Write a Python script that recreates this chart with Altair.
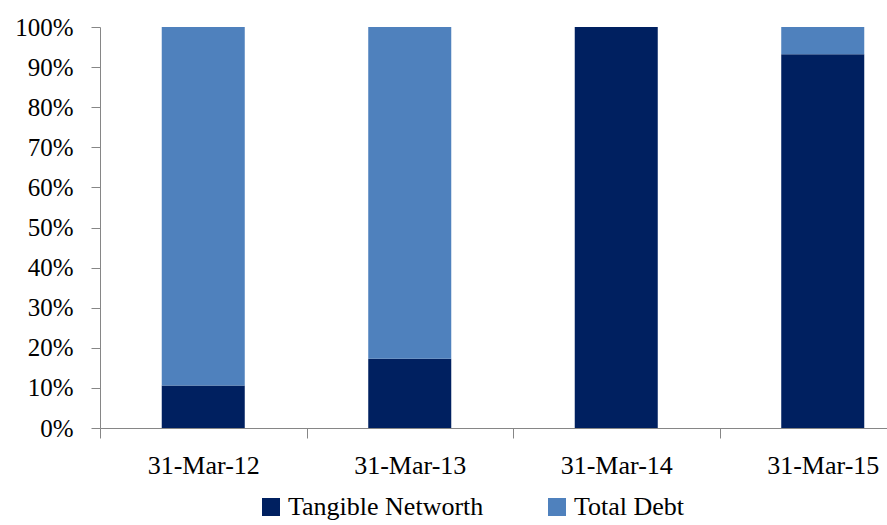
import altair as alt
import pandas as pd

dates = ["31-Mar-12", "31-Mar-13", "31-Mar-14", "31-Mar-15"]
tangible_networth = [0.106, 0.173, 1.0, 0.932]
total_debt = [0.894, 0.827, 0.0, 0.068]
series = ["Tangible Networth", "Total Debt"]
colors = ["#002060", "#4F81BD"]

rows = []
for d, t, debt in zip(dates, tangible_networth, total_debt):
    rows.append({"date": d, "series": series[0], "value": t, "ord": 0})
    rows.append({"date": d, "series": series[1], "value": debt, "ord": 1})
df = pd.DataFrame(rows)

FONT = "Liberation Serif"

chart = alt.Chart(df).mark_bar(width={"band": 0.402}).encode(
    x=alt.X("date:N", sort=dates, title=None,
            scale=alt.Scale(range=[0, 826], paddingInner=0, paddingOuter=0),
            axis=alt.Axis(labelAngle=0, tickBand="extent", tickSize=10,
                          labelPadding=14, labelFontSize=26, labelFont=FONT,
                          labelColor="#000000", domainColor="#868686",
                          tickColor="#868686", labelBaseline="top")),
    y=alt.Y("value:Q", stack="zero", title=None,
            scale=alt.Scale(domain=[0, 1]),
            axis=alt.Axis(format=".0%", values=[i / 10 for i in range(11)],
                          grid=False, tickSize=9, labelPadding=18,
                          labelFontSize=25, labelFont=FONT, labelColor="#000000",
                          domainColor="#868686", tickColor="#868686")),
    color=alt.Color("series:N", sort=series,
                    scale=alt.Scale(domain=series, range=colors),
                    legend=alt.Legend(orient="none", direction="horizontal",
                                      legendX=158, legendY=467, title=None,
                                      symbolType="square", symbolSize=324,
                                      symbolStrokeWidth=0, labelFontSize=26,
                                      labelFont=FONT, labelColor="#000000",
                                      labelOffset=4, labelLimit=400,
                                      columnPadding=60)),
    order=alt.Order("ord:Q"),
).properties(
    width=787, height=401,
    autosize=alt.AutoSizeParams(type="none"),
    padding={"left": 100, "top": 27, "right": 0, "bottom": 97},
).configure_view(stroke=None)

chart.save("out.html", embed_options={"renderer": "svg", "actions": False})
